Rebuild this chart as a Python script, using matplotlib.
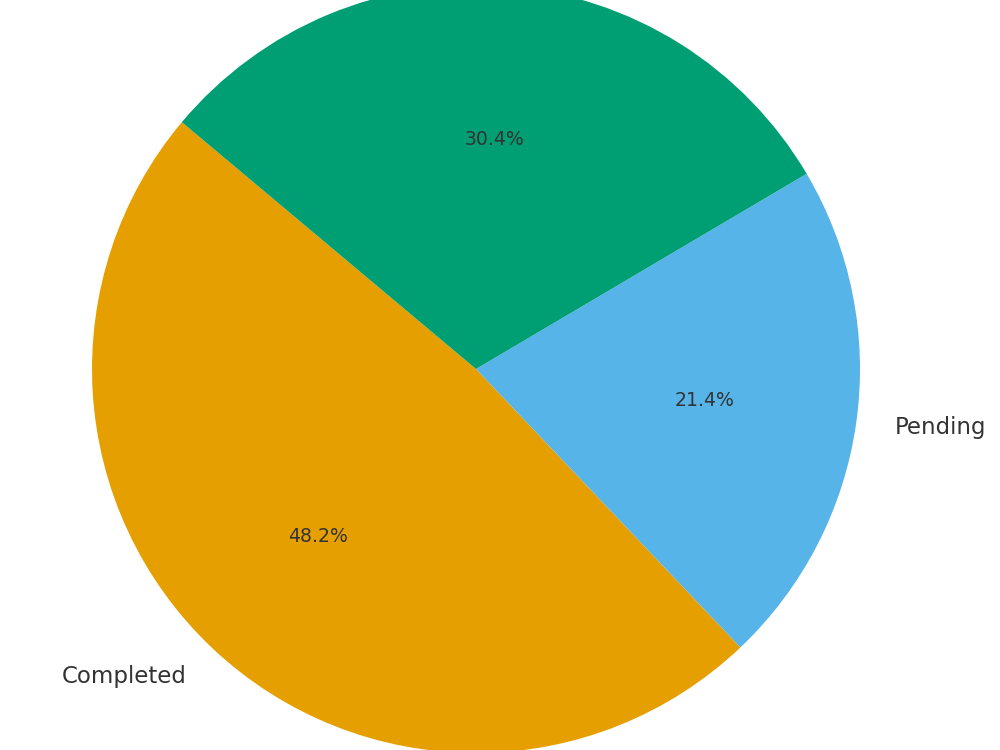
import matplotlib
matplotlib.use('Agg')
import matplotlib.pyplot as plt

plt.rcParams['font.family'] = ['DejaVu Sans']

# Data
labels = ['Completed', 'Pending', 'In Progress']
shares = [48.2, 21.4, 30.4]
colors = ['#E69F00', '#56B4E9', '#009E73']

fig = plt.figure(figsize=(10, 7.5), dpi=100)
ax = fig.add_axes([0, 0, 1, 1])

# the third slice's label sits above the canvas in the original, so it is not drawn
shown_labels = labels[:2] + ['']

wedges, texts, autotexts = ax.pie(
    shares, labels=shown_labels, colors=colors, startangle=140,
    autopct='%1.1f%%', labeldistance=1.1, pctdistance=0.6,
    textprops={'color': '#333333', 'fontsize': 16.5},
)
for t in autotexts:
    t.set_fontsize(13.6)

# place the pie like the original (center ~ (476, 369) px, radius ~384 px)
ax.set_aspect('auto')
ax.set_xlim(-476 / 384, (1000 - 476) / 384)
ax.set_ylim(-381 / 384, (750 - 381) / 384)
ax.axis('off')

fig.savefig('out.png', dpi=100)
